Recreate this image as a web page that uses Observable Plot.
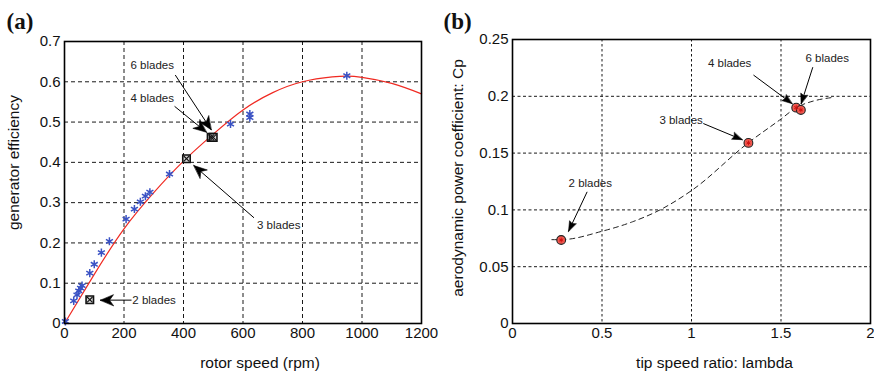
<!DOCTYPE html>
<html><head><meta charset="utf-8">
<script src="https://cdn.jsdelivr.net/npm/d3@7"></script>
<script src="https://cdn.jsdelivr.net/npm/@observablehq/plot@0.6"></script>
<style>
body{margin:0;background:#fff;}
#wrap{position:relative;width:874px;height:373px;overflow:hidden;background:#fff;}
#wrap svg{position:absolute;top:0;}
</style></head><body><div id="wrap"></div>
<script>
// ---------- Panel (a): generator efficiency vs rotor speed ----------
const speedTicks = [0, 200, 400, 600, 800, 1000, 1200];
const speedTickLabels = ["0", "200", "400", "600", "800", "1000", "1200"];
const effTicks = [0, 0.1, 0.2, 0.3, 0.4, 0.5, 0.6, 0.7];
const effTickLabels = ["0", "0.1", "0.2", "0.3", "0.4", "0.5", "0.6", "0.7"];
const measuredRpm = [3, 31, 42, 48, 54, 59, 85, 100, 124, 151, 207, 235, 255, 272, 287, 353, 558, 623, 623, 949];
const measuredEff = [0.005, 0.056, 0.071, 0.081, 0.088, 0.094, 0.125, 0.147, 0.176, 0.204, 0.259, 0.284, 0.302, 0.316, 0.326, 0.371, 0.495, 0.520, 0.511, 0.615];
const bladeRpm = [85, 410, 493, 500];
const bladeEff = [0.059, 0.409, 0.462, 0.462];
const fitRpm = [0, 100, 200, 300, 400, 500, 600, 700, 800, 900, 950, 1000, 1100, 1200];
const fitEff = [0, 0.122, 0.235, 0.325, 0.403, 0.470, 0.530, 0.573, 0.600, 0.612, 0.614, 0.611, 0.596, 0.570];
const annotAText = ["6 blades", "4 blades", "3 blades", "2 blades"];
const annotARpm = [295, 295, 720, 228];
const annotAEff = [0.640, 0.560, 0.243, 0.058];
const annotAAnchor = ["middle", "middle", "middle", "start"];
const arrowAFromRpm = [373, 371, 636, 224];
const arrowAFromEff = [0.616, 0.5385, 0.263, 0.058];
const arrowAToRpm = [493, 477, 435, 121];
const arrowAToEff = [0.481, 0.4747, 0.392, 0.058];

// ---------- Panel (b): Cp vs tip speed ratio ----------
const lambdaTicks = [0, 0.5, 1, 1.5, 2];
const lambdaTickLabels = ["0", "0.5", "1", "1.5", "2"];
const cpTicks = [0, 0.05, 0.1, 0.15, 0.2, 0.25];
const cpTickLabels = ["0", "0.05", "0.1", "0.15", "0.2", "0.25"];
const bladeLambda = [0.272, 1.318, 1.585, 1.611];
const bladeCp = [0.0735, 0.159, 0.190, 0.188];
const trendLambda = [0.22, 0.27, 0.5, 0.67, 0.83, 1.0, 1.32, 1.5, 1.585, 1.68, 1.78];
const trendCp = [0.0738, 0.0738, 0.0812, 0.0895, 0.1005, 0.1170, 0.1594, 0.180, 0.190, 0.1958, 0.1988];
const annotBText = ["4 blades", "6 blades", "3 blades", "2 blades"];
const annotBLambda = [1.213, 1.758, 0.942, 0.4345];
const annotBCp = [0.2288, 0.2335, 0.1793, 0.123];
const arrowBFromLambda = [1.348, 1.677, 1.068, 0.416];
const arrowBFromCp = [0.2185, 0.2253, 0.1759, 0.1156];
const arrowBToLambda = [1.562, 1.6125, 1.283, 0.313];
const arrowBToCp = [0.1935, 0.1935, 0.1618, 0.0812];

const FONT = "'Liberation Sans', Arial, Helvetica, sans-serif";
const zip = (keys, arrays) => arrays[0].map((_, i) => Object.fromEntries(keys.map((k, j) => [k, arrays[j][i]])));

function filledArrows(data, {headLength = 10, headWidth = 4, notch = 0, ...rest}) {
  return Plot.arrow(data, {
    x1: "x1", y1: "y1", x2: "x2", y2: "y2",
    stroke: "#000", strokeWidth: 1, headLength: 0,
    ...rest,
    render(index, scales, values, dimensions, context, next) {
      const g = next(index, scales, values, dimensions, context);
      const sel = d3.select(g);
      const X1 = values.x1, Y1 = values.y1, X2 = values.x2, Y2 = values.y2;
      for (const i of index) {
        const dx = X2[i] - X1[i], dy = Y2[i] - Y1[i], L = Math.hypot(dx, dy);
        const ux = dx / L, uy = dy / L, px = -uy, py = ux;
        const tx = X2[i], ty = Y2[i];
        const bx = tx - ux * headLength, by = ty - uy * headLength;
        const nx = tx - ux * headLength * (1 - notch), ny = ty - uy * headLength * (1 - notch);
        sel.append("path")
          .attr("d", `M${tx},${ty}L${bx + px * headWidth},${by + py * headWidth}L${nx},${ny}L${bx - px * headWidth},${by - py * headWidth}Z`)
          .attr("fill", "#000").attr("stroke", "#000").attr("stroke-width", 0.6);
      }
      return g;
    }
  });
}

const measured = zip(["x", "y"], [measuredRpm, measuredEff]);
const blades = zip(["x", "y"], [bladeRpm, bladeEff]);
const fit = zip(["x", "y"], [fitRpm, fitEff]);
const annotA = zip(["x", "y", "text", "anchor"], [annotARpm, annotAEff, annotAText, annotAAnchor]);
const arrowsA = zip(["x1", "y1", "x2", "y2"], [arrowAFromRpm, arrowAFromEff, arrowAToRpm, arrowAToEff]);

const plotA = Plot.plot({
  width: 437, height: 373,
  marginLeft: 64, marginRight: 16, marginTop: 41, marginBottom: 50,
  style: {fontFamily: FONT, background: "transparent", overflow: "visible"},
  x: {domain: [0, 1200]},
  y: {domain: [0, 0.7]},
  marks: [
    Plot.gridX(speedTicks.slice(1, -1), {stroke: "#000", strokeOpacity: 0.9, strokeDasharray: "4,3"}),
    Plot.gridY(effTicks.slice(1, -1), {stroke: "#000", strokeOpacity: 0.9, strokeDasharray: "4,3"}),
    Plot.axisX(speedTicks, {tickSize: 0, tickPadding: 4, fontSize: 15, label: null, tickFormat: (d, i) => speedTickLabels[i], fill: "#111"}),
    Plot.axisY(effTicks, {tickSize: 0, tickPadding: 4, fontSize: 15, label: null, tickFormat: (d, i) => effTickLabels[i], fill: "#111"}),
    Plot.line(fit, {x: "x", y: "y", stroke: "#f02a22", strokeWidth: 1.2, curve: "natural"}),
    Plot.dot(measured, {x: "x", y: "y", symbol: "asterisk", r: 3.8, stroke: "#3a52c4", strokeWidth: 1.5}),
    Plot.dot(blades, {x: "x", y: "y", symbol: "square", r: 4.2, fill: "#d8d8d8", stroke: "#111", strokeWidth: 1.6}),
    Plot.dot(blades, {x: "x", y: "y", symbol: "times", r: 2.6, stroke: "#111", strokeWidth: 1.1}),
    filledArrows(arrowsA, {headLength: 13, headWidth: 5.5, notch: 0.3}),
    Plot.text(annotA.filter(d => d.anchor === "middle"), {x: "x", y: "y", text: "text", fontSize: 11.5, fill: "#222", textAnchor: "middle", lineAnchor: "middle"}),
    Plot.text(annotA.filter(d => d.anchor === "start"), {x: "x", y: "y", text: "text", fontSize: 11.5, fill: "#222", textAnchor: "start", lineAnchor: "middle"}),
    Plot.text(["rotor speed (rpm)"], {frameAnchor: "bottom", dy: 40, dx: 17, fontSize: 15.5, fill: "#111", lineAnchor: "middle"}),
    Plot.text(["generator efficiency"], {frameAnchor: "left", dx: -50, dy: -20, rotate: -90, fontSize: 15.5, fill: "#111", textAnchor: "middle", lineAnchor: "middle"}),
    Plot.text(["(a)"], {frameAnchor: "top-left", dx: -58, dy: -20, textAnchor: "start", lineAnchor: "middle", fontSize: 23, fontWeight: "bold", fontFamily: "'Liberation Serif', 'Times New Roman', serif", fill: "#111"}),
    Plot.frame({stroke: "#000", strokeWidth: 1.6})
  ]
});

const bladePts = zip(["x", "y"], [bladeLambda, bladeCp]);
const trend = zip(["x", "y"], [trendLambda, trendCp]);
const annotB = zip(["x", "y", "text"], [annotBLambda, annotBCp, annotBText]);
const arrowsB = zip(["x1", "y1", "x2", "y2"], [arrowBFromLambda, arrowBFromCp, arrowBToLambda, arrowBToCp]);

const plotB = Plot.plot({
  width: 437, height: 373,
  marginLeft: 75, marginRight: 4, marginTop: 39, marginBottom: 50,
  style: {fontFamily: FONT, background: "transparent", overflow: "visible"},
  x: {domain: [0, 2]},
  y: {domain: [0, 0.25]},
  marks: [
    Plot.gridX(lambdaTicks.slice(1, -1), {stroke: "#000", strokeOpacity: 0.9, strokeDasharray: "2.5,2.5"}),
    Plot.gridY(cpTicks.slice(1, -1), {stroke: "#000", strokeOpacity: 0.9, strokeDasharray: "3,2.5"}),
    Plot.axisX(lambdaTicks, {tickSize: 0, tickPadding: 4, fontSize: 15, label: null, tickFormat: (d, i) => lambdaTickLabels[i], fill: "#111"}),
    Plot.axisY(cpTicks, {tickSize: 0, tickPadding: 4, fontSize: 15, label: null, tickFormat: (d, i) => cpTickLabels[i], fill: "#111"}),
    Plot.line(trend, {x: "x", y: "y", stroke: "#222", strokeWidth: 1, strokeDasharray: "5,4", curve: "monotone-x"}),
    Plot.dot(bladePts, {x: "x", y: "y", r: 4.4, fill: "#f05a50", stroke: "#222", strokeWidth: 1.1}),
    Plot.dot(bladePts, {x: "x", y: "y", symbol: "asterisk", r: 2.2, stroke: "#d01010", strokeWidth: 1}),
    filledArrows(arrowsB, {headLength: 10, headWidth: 3.6, notch: 0.15}),
    Plot.text(annotB, {x: "x", y: "y", text: "text", fontSize: 11.5, fill: "#222", textAnchor: "middle", lineAnchor: "middle"}),
    Plot.text(["tip speed ratio: lambda"], {frameAnchor: "bottom", dy: 40, dx: 23, fontSize: 15.5, fill: "#111", lineAnchor: "middle"}),
    Plot.text(["aerodynamic power coefficient: Cp"], {frameAnchor: "left", dx: -54, dy: -3.5, rotate: -90, fontSize: 15.5, fill: "#111", textAnchor: "middle", lineAnchor: "middle"}),
    Plot.text(["(b)"], {frameAnchor: "top-left", dx: -69, dy: -18, textAnchor: "start", lineAnchor: "middle", fontSize: 23, fontWeight: "bold", fontFamily: "'Liberation Serif', 'Times New Roman', serif", fill: "#111"}),
    Plot.frame({stroke: "#000", strokeWidth: 1.6})
  ]
});

plotA.style.left = "0px";
plotB.style.left = "437px";
document.getElementById("wrap").append(plotA, plotB);
</script>
</body></html>
